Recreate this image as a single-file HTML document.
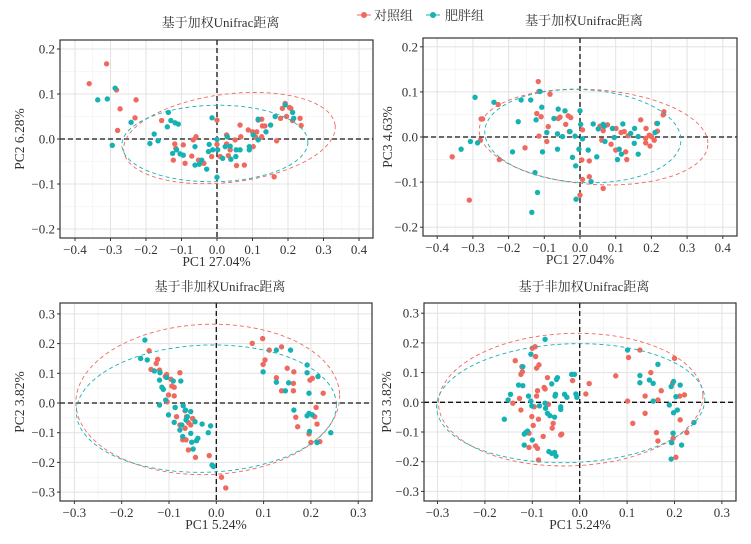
<!DOCTYPE html>
<html><head><meta charset="utf-8"><style>
html,body{margin:0;padding:0;background:#fff;}
svg text{font-family:"Liberation Serif","Noto Serif CJK SC","Noto Sans CJK SC",serif;fill:#333;}
</style></head><body>
<svg id="chart" width="751" height="539" viewBox="0 0 751 539" xmlns="http://www.w3.org/2000/svg">
<g>
<line x1="357" y1="15" x2="371" y2="15" stroke="#F0695F" stroke-width="1"/>
<circle cx="364" cy="15" r="3" fill="#F0695F"/>
<text x="374" y="20" font-size="13">对照组</text>
<line x1="426" y1="15" x2="440" y2="15" stroke="#16B2B3" stroke-width="1"/>
<circle cx="433" cy="15" r="3" fill="#16B2B3"/>
<text x="445" y="20" font-size="13">肥胖组</text>
</g>
</svg>
<script>
// ---------- data ----------
const p1Red=[[-0.36,0.123],[-0.311,0.167],[-0.283,0.109],[-0.273,0.067],[-0.228,0.087],[-0.231,0.047],[-0.28,0.019],[-0.156,0.041],[-0.119,-0.011],[-0.116,-0.021],[-0.123,-0.047],[-0.09,-0.054],[-0.059,0.005],[-0.067,-0.002],[-0.052,-0.047],[-0.037,-0.054],[0,0.042],[0,-0.012],[0.009,-0.039],[0.027,-0.011],[0.027,0.009],[0.032,-0.037],[0.051,-0.002],[0.055,-0.059],[0.065,0.031],[0.067,0.005],[0.077,-0.058],[0.088,0.02],[0.1,0.016],[0.109,0.004],[0.112,0.016],[0.116,0.042],[0.126,0.044],[0.128,0.029],[0.135,0.029],[0.126,0.005],[0.168,-0.004],[0.161,-0.084],[0.179,0.046],[0.184,0.068],[0.192,0.079],[0.196,0.05],[0.204,0.07],[0.208,0.068],[0.213,0.041],[0.234,0.046],[0.237,0.03],[0.102,-0.017],[-0.095,-0.013],[-0.071,-0.038],[-0.015,-0.039],[0.037,-0.024]];
const p1Teal=[[-0.336,0.087],[-0.309,0.089],[-0.287,0.113],[-0.295,-0.014],[-0.242,0.037],[-0.177,0.011],[-0.189,-0.01],[-0.166,-0.004],[-0.137,0.059],[-0.13,0.041],[-0.118,0.036],[-0.109,0.033],[-0.14,0.027],[-0.125,-0.032],[-0.114,-0.024],[-0.104,-0.033],[-0.095,-0.036],[-0.062,-0.017],[-0.062,-0.058],[-0.05,-0.056],[-0.043,-0.047],[-0.029,-0.067],[-0.022,-0.012],[-0.012,-0.024],[-0.024,-0.028],[-0.014,0.047],[0,-0.001],[0.002,-0.024],[0,-0.085],[0.016,-0.043],[0.023,-0.017],[0.029,0.005],[0.037,-0.016],[0.039,-0.045],[0.054,-0.024],[0.053,-0.039],[0.065,-0.024],[0.091,-0.017],[0.091,-0.024],[0.102,0.009],[0.116,-0.002],[0.116,0.044],[0.138,0.016],[0.151,0.031],[0.164,0.05],[0.192,0.076],[0.213,0.059],[0.216,0.046]];
const p2Red=[[-0.358,-0.044],[-0.31,-0.14],[-0.277,0.04],[-0.273,0.04],[-0.279,-0.007],[-0.229,0.072],[-0.226,-0.05],[-0.154,-0.024],[-0.117,0.123],[-0.115,0.101],[-0.084,0.095],[-0.121,0.052],[-0.109,0.045],[-0.115,0.002],[-0.089,0.023],[-0.093,-0.01],[-0.061,0.041],[-0.056,0.044],[-0.04,0.028],[-0.033,0.047],[-0.026,0.043],[-0.03,0.012],[0.005,-0.051],[0.007,-0.094],[0,-0.129],[0.026,-0.053],[0.026,-0.088],[0.007,0.016],[0.056,0.024],[0.065,0.014],[0.077,0.027],[0.065,-0.114],[0.061,-0.007],[0.087,-0.016],[0.101,0.019],[0.1,-0.029],[0.115,0.01],[0.124,0.012],[0.128,-0.033],[0.131,-0.05],[0.135,0.003],[0.17,0.038],[0.185,0.019],[0.184,-0.003],[0.184,-0.013],[0.194,0.004],[0.196,-0.02],[0.208,-0.007],[0.215,0.03],[0.217,0.013],[0.235,0.056],[0.233,0.049],[0.2,0.001]];
const p2Teal=[[-0.333,-0.027],[-0.307,-0.01],[-0.294,0.088],[-0.287,-0.013],[-0.241,0.077],[-0.189,-0.033],[-0.173,0.034],[-0.165,0.082],[-0.138,0.082],[-0.112,0.101],[-0.123,0.038],[-0.107,0.066],[-0.126,-0.079],[-0.119,-0.123],[-0.135,-0.167],[-0.105,-0.033],[-0.093,0.01],[-0.073,0.041],[-0.061,0.062],[-0.063,0.007],[-0.063,-0.027],[-0.049,0.001],[-0.042,0.058],[-0.028,0.012],[-0.014,0.002],[-0.021,-0.045],[-0.012,-0.064],[-0.011,-0.138],[0,0.058],[0.002,0.028],[0.007,-0.004],[-0.003,-0.027],[0.023,-0.029],[0.031,-0.099],[0.037,0.029],[0.047,-0.044],[0.051,0.018],[0.065,0.028],[0.068,0.024],[0.07,-0.01],[0.091,0.019],[0.096,-0.001],[0.105,-0.05],[0.11,-0.027],[0.116,-0.038],[0.12,0.029],[0.142,0.008],[0.152,-0.014],[0.153,0.019],[0.163,0.001],[0.163,-0.038],[0.21,0.01],[0.217,0.03]];
const p3Red=[[-0.142,0.176],[-0.127,0.133],[-0.124,0.147],[-0.138,0.113],[-0.12,0.111],[-0.108,0.089],[-0.105,0.096],[-0.096,0.08],[-0.077,0.102],[-0.094,0.057],[-0.089,0.053],[-0.101,0.027],[-0.089,0.024],[-0.104,0.004],[-0.087,-0.015],[-0.084,-0.046],[-0.077,-0.074],[-0.066,-0.026],[-0.063,-0.046],[-0.059,-0.066],[-0.054,-0.074],[-0.066,-0.085],[-0.071,-0.124],[-0.059,-0.158],[-0.044,-0.183],[-0.015,-0.177],[0.011,-0.25],[0.02,-0.286],[-0.064,-0.124],[-0.05,-0.052],[0.076,0.201],[0.098,0.217],[0.112,0.178],[0.138,0.189],[0.103,0.145],[0.099,0.13],[0.15,0.117],[0.164,0.105],[0.127,0.085],[0.138,0.041],[0.163,0.041],[0.163,0.066],[0.226,0.033],[0.168,-0.048],[0.172,-0.08],[0.198,0.077],[0.203,0.083],[0.211,-0.015],[0.208,-0.046],[0.213,-0.071],[0.196,-0.104],[0.2,-0.133],[0.219,-0.13]];
const p3Teal=[[-0.151,0.212],[-0.146,0.145],[-0.16,0.15],[-0.131,0.108],[-0.119,0.102],[-0.12,0.077],[-0.115,0.053],[-0.112,0.046],[-0.105,0.086],[-0.12,-0.007],[-0.107,0.01],[-0.091,0.074],[-0.075,0.074],[-0.087,-0.015],[-0.101,-0.04],[-0.089,-0.065],[-0.077,-0.091],[-0.071,-0.113],[-0.073,-0.074],[-0.07,-0.009],[-0.065,-0.024],[-0.061,-0.046],[-0.054,-0.029],[-0.064,-0.057],[-0.054,-0.102],[-0.052,-0.132],[-0.045,-0.063],[-0.039,-0.119],[-0.042,-0.127],[-0.049,-0.155],[-0.03,-0.071],[-0.017,-0.1],[-0.012,-0.077],[-0.009,-0.209],[-0.006,-0.214],[0.099,0.105],[0.127,0.178],[0.157,0.178],[0.127,0.07],[0.146,0.041],[0.153,0.068],[0.164,-0.024],[0.192,0.128],[0.192,0.102],[0.215,0.089],[0.196,0.033],[0.192,-0.043],[0.196,-0.035],[0.203,-0.04],[0.197,-0.096],[0.213,-0.133],[0.242,-0.1]];
const p4Red=[[-0.136,0.14],[-0.127,0.013],[-0.141,-0.003],[-0.122,0.12],[-0.124,0.094],[-0.121,0.103],[-0.124,-0.026],[-0.1,0.182],[-0.094,0.187],[-0.093,0.154],[-0.086,0.126],[-0.091,0.115],[-0.068,0.083],[-0.089,0.039],[-0.091,0.021],[-0.075,0.05],[-0.073,0.045],[-0.096,-0.015],[-0.101,-0.048],[-0.087,-0.057],[-0.098,-0.078],[-0.107,-0.104],[-0.107,-0.152],[-0.093,-0.147],[-0.089,-0.155],[-0.087,-0.194],[-0.077,-0.115],[-0.058,-0.087],[-0.056,-0.071],[-0.04,-0.11],[-0.038,-0.107],[-0.066,-0.007],[-0.015,0.073],[0.013,0.028],[0.02,0.063],[0.076,0.089],[0.101,0.004],[0.103,0.151],[0.127,0.176],[0.112,-0.071],[0.138,0.021],[0.138,-0.037],[0.15,0.1],[0.162,-0.102],[0.165,-0.13],[0.165,0.008],[0.172,0.039],[0.2,0.148],[0.196,0.064],[0.203,-0.185],[0.197,-0.121],[0.211,0.021],[0.221,0.025],[0.212,-0.059],[0.226,-0.102]];
const p4Teal=[[-0.159,-0.057],[-0.151,0.008],[-0.146,0.027],[-0.129,0.058],[-0.12,0.12],[-0.12,0.056],[-0.117,-0.107],[-0.114,-0.102],[-0.11,-0.097],[-0.117,-0.144],[-0.108,0.021],[-0.103,0.162],[-0.103,0.004],[-0.101,-0.012],[-0.1,-0.127],[-0.085,-0.012],[-0.073,0.212],[-0.073,-0.003],[-0.072,-0.02],[-0.068,-0.037],[-0.065,-0.166],[-0.063,-0.045],[-0.059,0.062],[-0.052,0.021],[-0.051,0.027],[-0.053,-0.05],[-0.053,-0.169],[-0.049,0.077],[-0.047,0.083],[-0.04,-0.015],[-0.04,-0.024],[-0.05,-0.181],[-0.059,-0.172],[-0.032,0.027],[-0.027,0.017],[-0.017,0.094],[-0.011,0.094],[-0.008,0.028],[-0.006,0.017],[0.101,0.176],[0.127,0.09],[0.127,0.066],[0.147,0.075],[0.155,0.064],[0.155,0.004],[0.165,0.128],[0.189,-0.009],[0.193,0.053],[0.198,0.07],[0.198,-0.035],[0.203,0.019],[0.206,-0.026],[0.212,0.058],[0.194,-0.136],[0.197,-0.104],[0.215,-0.144],[0.193,-0.191],[0.241,-0.068]];
// ellipse params: [cx, cy, rx, ry] in data units, tilt in degrees
const p1Ell=[[0.035,0.002,0.30,0.098,-7],[-0.006,-0.01,0.262,0.085,-1]];
const p2Ell=[[0.038,0.0,0.321,0.105,4],[0.008,0.002,0.275,0.103,3]];
const p3Ell=[[-0.018,0.012,0.279,0.253,-2],[-0.021,-0.019,0.275,0.214,-2]];
const p4Ell=[[-0.019,0.009,0.279,0.223,-2],[-0.019,-0.003,0.283,0.2,-2]];
const ticksWeighted=[-0.4,-0.3,-0.2,-0.1,0,0.1,0.2,0.3,0.4];
const ticksWeightedY=[-0.2,-0.1,0,0.1,0.2];
const ticksUnweighted=[-0.3,-0.2,-0.1,0,0.1,0.2,0.3];
const titles=["基于加权Unifrac距离","基于加权Unifrac距离","基于非加权Unifrac距离","基于非加权Unifrac距离"];
const xTitles=["PC1 27.04%","PC1 27.04%","PC1 5.24%","PC1 5.24%"];
const yTitles=["PC2 6.28%","PC3 4.63%","PC2 3.82%","PC3 3.82%"];

const RED="#F0695F",TEAL="#16B2B3";
const NS="http://www.w3.org/2000/svg";
const svg=document.getElementById('chart');
function mk(tag,attrs,parent){const e=document.createElementNS(NS,tag);for(const k in attrs)e.setAttribute(k,attrs[k]);(parent||svg).appendChild(e);return e;}
function fmt(v){const s=Math.abs(v).toFixed(1);return (v<-1e-9?"\u2212":"")+s;}

const panels=[
 {box:[60,40,373,238],x0:217,xs:355,y0:139,ys:450,xt:ticksWeighted,yt:ticksWeightedY,red:p1Red,teal:p1Teal,ell:p1Ell,ty:27,yl:20},
 {box:[423,38,737,236],x0:580,xs:357,y0:137,ys:451,xt:ticksWeighted,yt:ticksWeightedY,red:p2Red,teal:p2Teal,ell:p2Ell,ty:25,yl:388},
 {box:[60,303,372,501],x0:216.3,xs:473,y0:403,ys:297,xt:ticksUnweighted,yt:ticksUnweighted,red:p3Red,teal:p3Teal,ell:p3Ell,ty:291,yl:20},
 {box:[424,303,736,501],x0:579.7,xs:474,y0:402.3,ys:297,xt:ticksUnweighted,yt:ticksUnweighted,red:p4Red,teal:p4Teal,ell:p4Ell,ty:291,yl:387}
];
panels.forEach((p,i)=>{
 const g=mk('g',{});
 
 
 const X=v=>p.x0+v*p.xs, Y=v=>p.y0-v*p.ys;
 const [l,t,r,b]=p.box;
 mk('rect',{x:l,y:t,width:r-l,height:b-t,fill:'#fff'},g);
 const step=0.05;
 for(let v=-0.6;v<=0.6001;v+=step){
  const xv=X(v); if(xv>l&&xv<r) mk('line',{x1:xv,y1:t,x2:xv,y2:b,stroke:'#f0f0f0','stroke-width':0.6},g);
  const yv=Y(v); if(yv>t&&yv<b) mk('line',{x1:l,y1:yv,x2:r,y2:yv,stroke:'#f0f0f0','stroke-width':0.6},g);
 }
 p.xt.forEach(v=>{const xv=X(v);mk('line',{x1:xv,y1:t,x2:xv,y2:b,stroke:'#e3e3e3','stroke-width':1},g);
  mk('line',{x1:xv,y1:b,x2:xv,y2:b+3,stroke:'#333','stroke-width':1},g);
  const tx=mk('text',{x:xv,y:b+16,'font-size':13,'text-anchor':'middle'},g);tx.textContent=fmt(v);
  
  });
 p.yt.forEach(v=>{const yv=Y(v);mk('line',{x1:l,y1:yv,x2:r,y2:yv,stroke:'#e3e3e3','stroke-width':1},g);
  mk('line',{x1:l-3,y1:yv,x2:l,y2:yv,stroke:'#333','stroke-width':1},g);
  const tx=mk('text',{x:l-5,y:yv+4.5,'font-size':13,'text-anchor':'end'},g);tx.textContent=fmt(v);
  
  });
 mk('line',{x1:l,y1:Y(0),x2:r,y2:Y(0),stroke:'#111','stroke-width':1.3,'stroke-dasharray':'5,3'},g);
 mk('line',{x1:X(0),y1:t,x2:X(0),y2:b,stroke:'#111','stroke-width':1.3,'stroke-dasharray':'5,3'},g);
 [[p.red,RED,'control'],[p.teal,TEAL,'obese']].forEach(([arr,col,nm])=>{
  arr.forEach(d=>{const c=mk('circle',{cx:X(d[0]),cy:Y(d[1]),r:2.7,fill:col},g);
   
   });
 });
 p.ell.forEach((e,k)=>{
  const [cx,cy,rx,ry,ang]=e;const a=ang*Math.PI/180;
  const cxp=X(cx),cyp=Y(cy),rxp=rx*p.xs,ryp=ry*p.ys;let dstr='';
  for(let j=0;j<=120;j++){const th=j/120*2*Math.PI;const ux=rxp*Math.cos(th),uy=ryp*Math.sin(th);
   const px=cxp+ux*Math.cos(a)-uy*Math.sin(a),py=cyp+ux*Math.sin(a)+uy*Math.cos(a);
   dstr+=(j?'L':'M')+px.toFixed(1)+','+py.toFixed(1);}
  const el=mk('path',{d:dstr,fill:'none',stroke:k?TEAL:RED,'stroke-width':0.9,'stroke-dasharray':'4,3'},g);
  
  
 });
 mk('rect',{x:l,y:t,width:r-l,height:b-t,fill:'none',stroke:'#333','stroke-width':1.2},g);
 const tt=mk('text',{x:(l+r)/2+4,y:p.ty,'font-size':13,'text-anchor':'middle'},g);tt.textContent=titles[i];
 
 
 const xl=mk('text',{x:(l+r)/2,y:b+28,'font-size':13.5,'text-anchor':'middle'},g);xl.textContent=xTitles[i];
 
 
 const ym=(t+b)/2;
 const yl=mk('text',{x:p.yl,y:ym,'font-size':13.5,'text-anchor':'middle',transform:'rotate(-90 '+(p.yl)+' '+ym+')',dy:'4'},g);yl.textContent=yTitles[i];
 
 
});
</script>
</body></html>
